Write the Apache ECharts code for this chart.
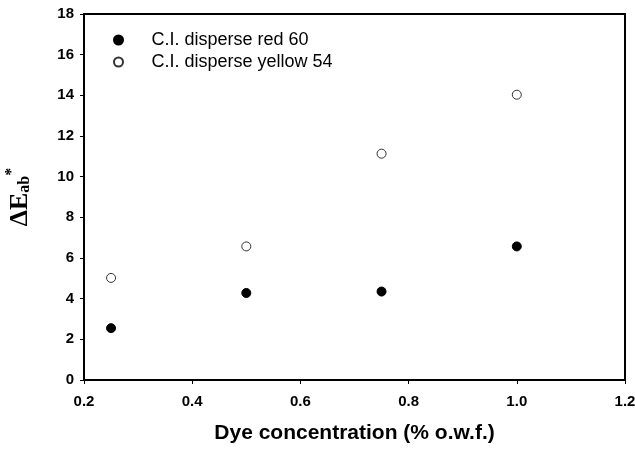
<!DOCTYPE html>
<html>
<head>
<meta charset="utf-8">
<script src="https://cdn.jsdelivr.net/npm/echarts@6/dist/echarts.min.js"></script>
<style>
html,body{margin:0;padding:0;background:#fff;}
#chart{width:635px;height:449px;}
</style>
</head>
<body>
<div id="chart"></div>
<script>
// dye concentration (% o.w.f.)
var conc = [0.25, 0.5, 0.75, 1.0];
// colour difference values
var red60 = [2.55, 4.28, 4.35, 6.57];
var yellow54 = [5.02, 6.57, 11.13, 14.03];
var seriesNames = ['C.I. disperse red 60', 'C.I. disperse yellow 54'];

function pairs(xs, ys) {
    var out = [];
    for (var i = 0; i < xs.length; i++) {
        out.push([xs[i], ys[i]]);
    }
    return out;
}

var chart = echarts.init(document.getElementById('chart'));
var option = {
    backgroundColor: '#fff',
    animation: false,
    grid: {
        left: 84, right: 10, top: 14, bottom: 69,
        outerBoundsMode: 'none',
        show: true, borderColor: '#000', borderWidth: 2, backgroundColor: 'transparent'
    },
    legend: {
        orient: 'vertical',
        left: 108, top: 26,
        itemWidth: 56, itemHeight: 9, itemGap: 4,
        textStyle: {fontFamily: 'Liberation Sans', fontSize: 18, color: '#000'},
        data: seriesNames
    },
    xAxis: {
        type: 'value', min: 0.2, max: 1.2, interval: 0.2,
        name: 'Dye concentration (% o.w.f.)',
        nameLocation: 'middle', nameGap: 43,
        nameTextStyle: {fontFamily: 'Liberation Sans', fontWeight: 'bold', fontSize: 21, color: '#000'},
        axisLine: {lineStyle: {color: '#000', width: 2}},
        axisTick: {length: 4, lineStyle: {color: '#000', width: 1}},
        axisLabel: {margin: 14, fontFamily: 'Liberation Sans', fontWeight: 'bold', fontSize: 15, color: '#000',
            formatter: function (v) { return v.toFixed(1); }},
        splitLine: {show: false}
    },
    yAxis: {
        type: 'value', min: 0, max: 18, interval: 2,
        name: '{d|ΔE}{sub|ab}{sup|*}',
        nameLocation: 'middle', nameGap: 48,
        nameTextStyle: {
            color: '#000',
            rich: {
                d: {fontFamily: 'Liberation Serif', fontWeight: 'bold', fontSize: 26, color: '#000'},
                sub: {fontFamily: 'Liberation Serif', fontWeight: 'bold', fontSize: 16, color: '#000', padding: [10, 0, 0, 0]},
                sup: {fontFamily: 'Liberation Serif', fontWeight: 'bold', fontSize: 16, color: '#000', padding: [0, 0, 16, 0]}
            }
        },
        axisLine: {lineStyle: {color: '#000', width: 2}},
        axisTick: {length: 4, lineStyle: {color: '#000', width: 1}},
        axisLabel: {margin: 10, fontFamily: 'Liberation Sans', fontWeight: 'bold', fontSize: 15, color: '#000'},
        splitLine: {show: false}
    },
    series: [
        {
            name: seriesNames[0], type: 'scatter', symbol: 'circle', symbolSize: 9,
            itemStyle: {color: '#000', borderColor: '#000', borderWidth: 1, opacity: 1},
            data: pairs(conc, red60)
        },
        {
            name: seriesNames[1], type: 'scatter', symbol: 'circle', symbolSize: 9,
            itemStyle: {color: '#fff', borderColor: '#333', borderWidth: 1, opacity: 1},
            data: pairs(conc, yellow54)
        }
    ]
};
chart.setOption(option);
</script>
</body>
</html>
